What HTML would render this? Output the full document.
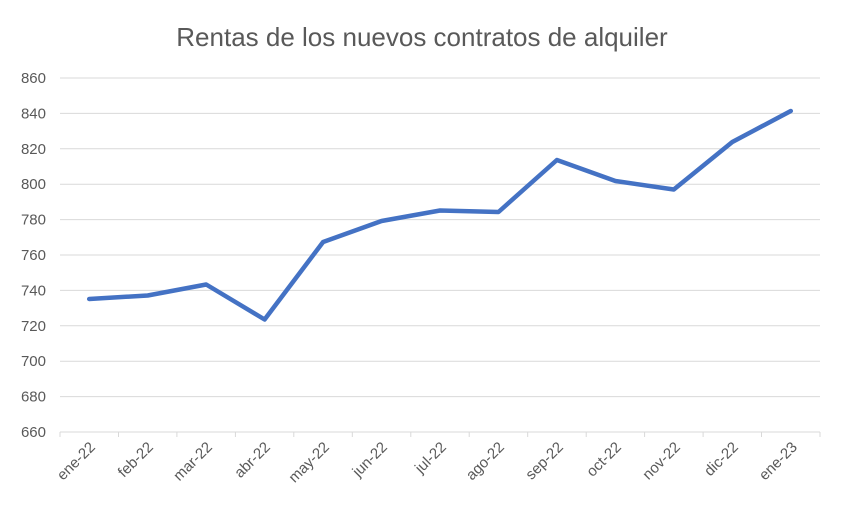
<!DOCTYPE html>
<html><head><meta charset="utf-8"><style>
body{margin:0;background:#fff;}
svg{display:block;font-family:"Liberation Sans",Calibri,sans-serif;}
</style></head><body>
<svg width="844" height="514" viewBox="0 0 844 514" xmlns="http://www.w3.org/2000/svg">
<rect width="844" height="514" fill="#fff"/>
<text x="422" y="46" text-anchor="middle" font-size="26" fill="#595959">Rentas de los nuevos contratos de alquiler</text>
<g stroke="#d9d9d9" stroke-width="1">
<line x1="60" x2="820" y1="78" y2="78"/>
<line x1="60" x2="820" y1="113.4" y2="113.4"/>
<line x1="60" x2="820" y1="148.8" y2="148.8"/>
<line x1="60" x2="820" y1="184.2" y2="184.2"/>
<line x1="60" x2="820" y1="219.6" y2="219.6"/>
<line x1="60" x2="820" y1="255" y2="255"/>
<line x1="60" x2="820" y1="290.4" y2="290.4"/>
<line x1="60" x2="820" y1="325.8" y2="325.8"/>
<line x1="60" x2="820" y1="361.2" y2="361.2"/>
<line x1="60" x2="820" y1="396.6" y2="396.6"/>
<line x1="60" x2="820" y1="432" y2="432"/>
<line x1="60" x2="60" y1="432" y2="437"/>
<line x1="118.5" x2="118.5" y1="432" y2="437"/>
<line x1="176.9" x2="176.9" y1="432" y2="437"/>
<line x1="235.4" x2="235.4" y1="432" y2="437"/>
<line x1="293.8" x2="293.8" y1="432" y2="437"/>
<line x1="352.3" x2="352.3" y1="432" y2="437"/>
<line x1="410.8" x2="410.8" y1="432" y2="437"/>
<line x1="469.2" x2="469.2" y1="432" y2="437"/>
<line x1="527.7" x2="527.7" y1="432" y2="437"/>
<line x1="586.2" x2="586.2" y1="432" y2="437"/>
<line x1="644.6" x2="644.6" y1="432" y2="437"/>
<line x1="703.1" x2="703.1" y1="432" y2="437"/>
<line x1="761.5" x2="761.5" y1="432" y2="437"/>
<line x1="820" x2="820" y1="432" y2="437"/>
</g>
<g font-size="15" fill="#595959" text-anchor="end">
<text x="46" y="83">860</text>
<text x="46" y="118.4">840</text>
<text x="46" y="153.8">820</text>
<text x="46" y="189.2">800</text>
<text x="46" y="224.6">780</text>
<text x="46" y="260">760</text>
<text x="46" y="295.4">740</text>
<text x="46" y="330.8">720</text>
<text x="46" y="366.2">700</text>
<text x="46" y="401.6">680</text>
<text x="46" y="437">660</text>
</g>
<g font-size="15" fill="#595959" text-anchor="end">
<text transform="translate(96,448) rotate(-45)">ene-22</text>
<text transform="translate(154,448) rotate(-45)">feb-22</text>
<text transform="translate(213,448) rotate(-45)">mar-22</text>
<text transform="translate(271,448) rotate(-45)">abr-22</text>
<text transform="translate(330,448) rotate(-45)">may-22</text>
<text transform="translate(388,448) rotate(-45)">jun-22</text>
<text transform="translate(447,448) rotate(-45)">jul-22</text>
<text transform="translate(505,448) rotate(-45)">ago-22</text>
<text transform="translate(564,448) rotate(-45)">sep-22</text>
<text transform="translate(622,448) rotate(-45)">oct-22</text>
<text transform="translate(681,448) rotate(-45)">nov-22</text>
<text transform="translate(739,448) rotate(-45)">dic-22</text>
<text transform="translate(798,448) rotate(-45)">ene-23</text>
</g>
<polyline fill="none" stroke="#4472c4" stroke-width="4.5" stroke-linejoin="round" stroke-linecap="round"
points="89.2,299 147.7,295.5 206.2,284.5 264.6,319.5 323.1,242 381.5,221 440,210.5 498.5,212 556.9,160 615.4,181 673.8,189.5 732.3,142 790.8,111"/>
</svg>
</body></html>
